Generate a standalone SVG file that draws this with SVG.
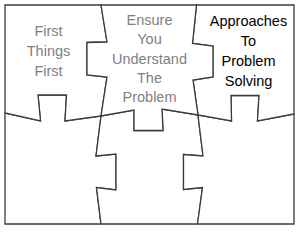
<svg xmlns="http://www.w3.org/2000/svg" width="300" height="232" viewBox="0 0 300 232">
<style>
.p{fill:#fff;stroke:#3c3c3c;stroke-width:1.3;stroke-linejoin:miter}
.t{font-family:"Liberation Sans",Arial,sans-serif;font-size:14.5px;text-anchor:middle}
.g{fill:#808080}
.k{fill:#000}
</style>
<rect width="300" height="232" fill="#fff"/>
<g id="piece-bl"><path class="p" d="M5,113 L40.5,121 L38,95 L66.5,95 L65,121 L101,116 L96,156 L116,154 L116,190 L96.5,187.5 L101,224 L5,224 Z"/></g>
<g id="piece-bm"><path class="p" d="M101,116 L134,110 L134,130.5 L163,130.5 L162,109 L198,115 L203,156 L183.5,154.5 L183.5,189.5 L202.5,187.5 L197.5,224 L101,224 L96.5,187.5 L116,190 L116,154 L96,156 Z"/></g>
<g id="piece-br"><path class="p" d="M198,115 L231.5,121 L231,95.5 L259,95.5 L257.5,121 L294,114 L294,224 L197.5,224 L202.5,187.5 L183.5,189.5 L183.5,154.5 L203,156 Z"/></g>
<g id="piece-tl"><path class="p" d="M5,5 L101,5 L107,42 L87,42.5 L87,75 L107,77 L101,116 L65,121 L66.5,95 L38,95 L40.5,121 L5,113 Z"/>
<text class="t g" x="48.5" y="36">First</text><text class="t g" x="48.5" y="56">Things</text><text class="t g" x="48.5" y="76">First</text></g>
<g id="piece-tr"><path class="p" d="M196.5,5 L294,5 L294,114 L257.5,121 L259,95.5 L231,95.5 L231.5,121 L198,115 L193,80 L213,77 L213,46 L192.5,43.5 Z"/>
<text class="t k" x="248.5" y="26">Approaches</text><text class="t k" x="248.5" y="46">To</text><text class="t k" x="248.5" y="66">Problem</text><text class="t k" x="248.5" y="86">Solving</text></g>
<g id="piece-tm"><path class="p" d="M101,5 L196.5,5 L192.5,43.5 L213,46 L213,77 L193,80 L198,115 L162,109 L163,130.5 L134,130.5 L134,110 L101,116 L107,77 L87,75 L87,42.5 L107,42 Z"/>
<text class="t g" x="149.5" y="25">Ensure</text><text class="t g" x="149.5" y="44">You</text><text class="t g" x="149.5" y="63.5">Understand</text><text class="t g" x="149.5" y="82.5">The</text><text class="t g" x="149.5" y="101.5">Problem</text></g>
</svg>
